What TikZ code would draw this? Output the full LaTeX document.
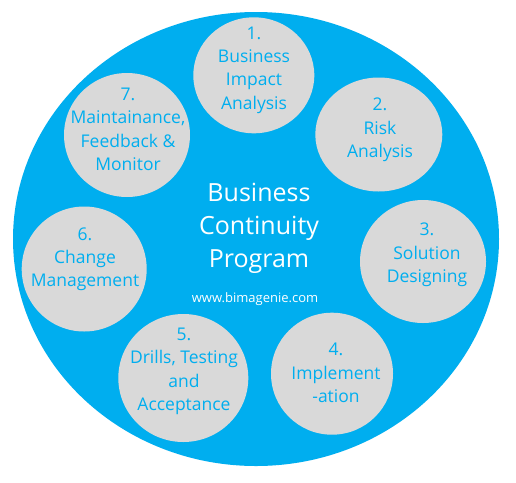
\documentclass[tikz,border=0pt]{standalone}
\usepackage{fontspec}
\setmainfont{Open Sans}
\usetikzlibrary{shapes.geometric}
\definecolor{bcblue}{HTML}{00AEEF}
\definecolor{bcgrey}{HTML}{D9D9D9}
\begin{document}
\begin{tikzpicture}[x=1pt,y=-1pt,
  bigdisc/.style={ellipse, fill=bcblue, draw=none, inner sep=0pt},
  stage/.style={ellipse, fill=bcgrey, draw=none, inner sep=0pt},
  stagetext/.style={text=bcblue, align=center, anchor=north, inner sep=0pt,
    font=\fontsize{17.5}{23.3}\selectfont},
  titletext/.style={text=white, align=center, anchor=north, inner sep=0pt,
    font=\fontsize{25}{33}\selectfont},
  urltext/.style={text=white, anchor=base, inner sep=0pt,
    font=\fontsize{13}{15}\selectfont}]
\useasboundingbox (0,0) rectangle (516,482);
\fill[white] (0,0) rectangle (516,482);
\node[bigdisc, minimum width=486pt, minimum height=454pt] (prog) at (256,239) {};
% stage discs
\node[stage, minimum width=121pt, minimum height=116pt] (s1) at (253.8,75.3) {};
\node[stage, minimum width=127pt, minimum height=114pt] (s2) at (378.8,134.5) {};
\node[stage, minimum width=126pt, minimum height=123pt] (s3) at (423,261.5) {};
\node[stage, minimum width=122pt, minimum height=122pt] (s4) at (332,373.7) {};
\node[stage, minimum width=130pt, minimum height=128pt] (s5) at (183.3,378) {};
\node[stage, minimum width=125pt, minimum height=125pt] (s6) at (84.2,269) {};
\node[stage, minimum width=126pt, minimum height=124pt] (s7) at (127,135) {};
% texts
\node[stagetext] (t1) at (254,26.7) {1.\\Business\\Impact\\Analysis};
\node[stagetext] (t2) at (380,98) {2.\\Risk\\Analysis};
\node[stagetext] (t3) at (427,223) {3.\\Solution\\Designing};
\node[stagetext] (t4) at (336,343) {4.\\Implement\\-ation};
\node[stagetext] (t5) at (184,327.7) {5.\\Drills, Testing\\and\\Acceptance};
\node[stagetext] (t6) at (85,227.3) {6.\\Change\\Management};
\node[stagetext] (t7) at (128,88) {7.\\Maintainance,\\Feedback \&\\Monitor};
\node[titletext] (title) at (259,183.3) {Business\\Continuity\\Program};
\node[urltext] (url) at (255,302) {www.bimagenie.com};
\end{tikzpicture}
\end{document}
